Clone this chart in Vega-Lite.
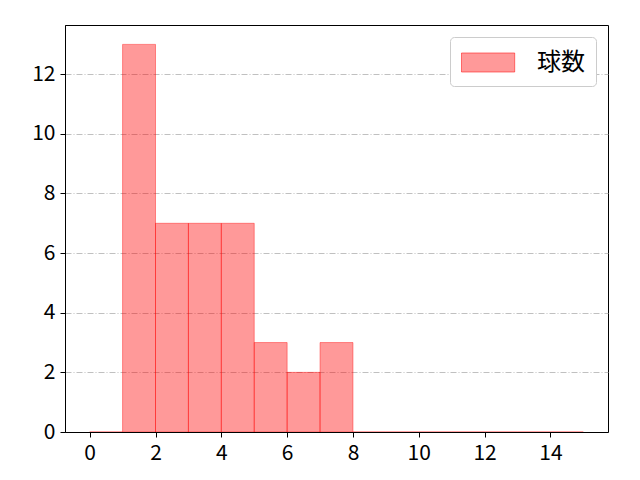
{
  "$schema": "https://vega.github.io/schema/vega-lite/v6.json",
  "width": 543,
  "height": 407,
  "autosize": {"type": "none"},
  "padding": {"left": 65, "top": 25, "right": 32, "bottom": 48},
  "background": "white",
  "config": {
    "font": "Noto Sans CJK JP",
    "view": {"stroke": "black", "strokeWidth": 1},
    "axis": {
      "labelFont": "Noto Sans CJK JP",
      "labelFontSize": 21,
      "labelColor": "black",
      "tickColor": "black",
      "tickSize": 5,
      "domainColor": "black",
      "labelPadding": 5
    }
  },
  "data": {
    "values": [
      {"bin_start": 0, "bin_end": 1, "count": 0, "series": "球数"},
      {"bin_start": 1, "bin_end": 2, "count": 13, "series": "球数"},
      {"bin_start": 2, "bin_end": 3, "count": 7, "series": "球数"},
      {"bin_start": 3, "bin_end": 4, "count": 7, "series": "球数"},
      {"bin_start": 4, "bin_end": 5, "count": 7, "series": "球数"},
      {"bin_start": 5, "bin_end": 6, "count": 3, "series": "球数"},
      {"bin_start": 6, "bin_end": 7, "count": 2, "series": "球数"},
      {"bin_start": 7, "bin_end": 8, "count": 3, "series": "球数"},
      {"bin_start": 8, "bin_end": 9, "count": 0, "series": "球数"},
      {"bin_start": 9, "bin_end": 10, "count": 0, "series": "球数"},
      {"bin_start": 10, "bin_end": 11, "count": 0, "series": "球数"},
      {"bin_start": 11, "bin_end": 12, "count": 0, "series": "球数"},
      {"bin_start": 12, "bin_end": 13, "count": 0, "series": "球数"},
      {"bin_start": 13, "bin_end": 14, "count": 0, "series": "球数"},
      {"bin_start": 14, "bin_end": 15, "count": 0, "series": "球数"}
    ]
  },
  "mark": {
    "type": "bar",
    "fillOpacity": 0.4,
    "stroke": "red",
    "strokeOpacity": 0.4,
    "strokeWidth": 1
  },
  "encoding": {
    "x": {
      "field": "bin_start",
      "type": "quantitative",
      "scale": {"domain": [-0.75, 15.75], "nice": false, "zero": false},
      "axis": {"title": null, "values": [0, 2, 4, 6, 8, 10, 12, 14], "grid": false, "zindex": 1}
    },
    "x2": {"field": "bin_end"},
    "y": {
      "field": "count",
      "type": "quantitative",
      "scale": {"domain": [0, 13.65], "nice": false},
      "axis": {
        "title": null,
        "values": [0, 2, 4, 6, 8, 10, 12],
        "grid": true,
        "gridColor": "#b0b0b0",
        "gridDash": [6, 2, 1, 2],
        "gridWidth": 0.8
      }
    },
    "y2": {"datum": 0},
    "color": {
      "field": "series",
      "type": "nominal",
      "scale": {"range": ["red"]},
      "legend": {
        "title": null,
        "orient": "top-right",
        "offset": 12,
        "padding": 11,
        "strokeColor": "#cccccc",
        "fillColor": "white",
        "cornerRadius": 4,
        "symbolType": "M-1,-0.68H2.8V0.68H-1Z",
        "symbolSize": 784,
        "symbolStrokeColor": "red",
        "labelFont": "Noto Sans CJK JP",
        "labelFontSize": 24,
        "labelColor": "black",
        "labelOffset": 47,
        "labelLimit": 200,
        "encode": {
          "symbols": {
            "update": {
              "stroke": {"value": "red"},
              "strokeWidth": {"value": 1},
              "fillOpacity": {"value": 0.4},
              "strokeOpacity": {"value": 0.5}
            }
          }
        }
      }
    }
  }
}
